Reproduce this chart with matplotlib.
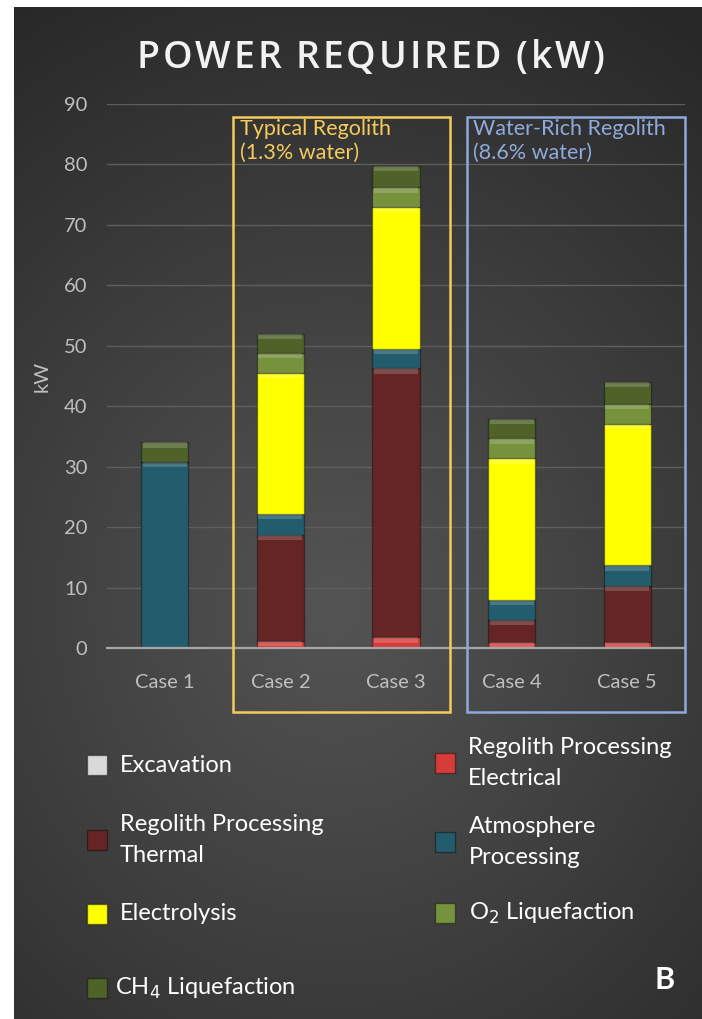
import numpy as np
import matplotlib.pyplot as plt
from matplotlib.patches import Rectangle

plt.rcParams['font.family'] = ['Lato', 'DejaVu Sans']

# datos (kW)
casos = ['Case 1', 'Case 2', 'Case 3', 'Case 4', 'Case 5']
excavacion = [0, 0, 0, 0, 0]
reg_electrico = [0, 1.2, 1.8, 1.0, 1.0]
reg_termico = [0, 17.5, 44.5, 3.7, 9.3]
atmosfera = [30.8, 3.5, 3.2, 3.3, 3.4]
electrolisis = [0, 23.3, 23.5, 23.4, 23.4]
o2_licuado = [0, 3.3, 3.2, 3.3, 3.3]
ch4_licuado = [3.2, 3.2, 3.6, 3.2, 3.6]

series = [('Excavation', excavacion, '#D9D9D9'),
          ('Regolith Processing\nElectrical', reg_electrico, '#D63C3A'),
          ('Regolith Processing\nThermal', reg_termico, '#652524'),
          ('Atmosphere\nProcessing', atmosfera, '#235C6C'),
          ('Electrolysis', electrolisis, '#FFFF00'),
          ('O$_2$ Liquefaction', o2_licuado, '#76923C'),
          ('CH$_4$ Liquefaction', ch4_licuado, '#4F6228')]

W, H = 702, 1019
fig = plt.figure(figsize=(W / 100, H / 100), dpi=100, facecolor='white')

# fondo oscuro con degradado radial
bg = fig.add_axes([14 / W, 0, 1 - 14 / W, 1 - 7 / H])
yy, xx = np.mgrid[0:1012, 0:688]
d = np.sqrt((xx - 320) ** 2 + ((yy - 600) * 0.9) ** 2) / 620
d = np.clip(d, 0, 1)
val = 0.33 - 0.17 * d
bg.imshow(np.dstack([val, val, val]), aspect='auto', extent=[0, 1, 0, 1])
bg.axis('off')

ax = fig.add_axes([107 / W, (H - 648) / H, 578 / W, 544 / H])
ax.patch.set_alpha(0)
x = np.arange(len(casos))
base = np.zeros(len(casos))
for nombre, vals, color in series:
    vals = np.array(vals, dtype=float)
    ax.bar(x, vals, 0.41, bottom=base, color=color, edgecolor=(0, 0, 0, 0.35), linewidth=1, zorder=3)
    # brillo en la parte de arriba de cada segmento
    h = np.minimum(vals, 0.9)
    ax.bar(x, h, 0.38, bottom=base + vals - h, color='white', alpha=0.18, linewidth=0, zorder=4)
    base = base + vals

ax.set_xlim(-0.5, 4.5)
ax.set_ylim(0, 90)
ax.set_yticks(range(0, 91, 10))
ax.set_xticks(x)
ax.set_xticklabels(casos)
ax.tick_params(colors='#BFBFBF', labelsize=14.5, length=0)
ax.tick_params(axis='y', pad=14)
ax.tick_params(axis='x', pad=19)
ax.grid(axis='y', color='#5E5E5E', linewidth=1, zorder=0)
for s in ['top', 'right', 'left']:
    ax.spines[s].set_visible(False)
ax.spines['bottom'].set_color('#A6A6A6')
ax.spines['bottom'].set_linewidth(1.6)
ax.spines['bottom'].set_zorder(5)
ax.set_ylabel('kW', color='#BFBFBF', fontsize=14.5, labelpad=10)

# cajas de los grupos
ax.add_patch(Rectangle((0.59, -10.6), 1.877, 98.45, fill=False, edgecolor='#F5CB5C', linewidth=1.8, clip_on=False, zorder=6))
ax.add_patch(Rectangle((2.614, -10.6), 1.886, 98.45, fill=False, edgecolor='#8FAADC', linewidth=1.8, clip_on=False, zorder=6))
ax.text(0.65, 87.6, 'Typical Regolith\n(1.3% water)', color='#F5CB5C', fontsize=15.5, va='top', ha='left', linespacing=1.3, zorder=6)
ax.text(2.67, 87.6, 'Water-Rich Regolith\n(8.6% water)', color='#8FAADC', fontsize=15.5, va='top', ha='left', linespacing=1.3, zorder=6)

# titulo con letras separadas
titulo = 'POWER REQUIRED (kW)'
r = fig.canvas.get_renderer()
letras = []
for c in titulo:
    t = fig.text(0, 1 - 58 / H, c, color='#F2F2F2', fontsize=27, fontweight='semibold',
                 family=['Open Sans', 'DejaVu Sans'], ha='left', va='center')
    letras.append(t)
anchos = []
for t, c in zip(letras, titulo):
    if c == ' ':
        anchos.append(9)
    else:
        anchos.append(t.get_window_extent(r).width)
extra = 2.8
total = sum(anchos) + extra * (len(titulo) - 1)
xpos = 371 - total / 2
for t, w in zip(letras, anchos):
    t.set_x(xpos / W)
    xpos += w + extra

# leyenda hecha a mano
pos = [(97, 765, 120), (445, 763, 468), (97, 840, 120), (445, 842, 469),
       (97, 914, 120), (445, 913, 469), (97, 988, 115)]
for (nombre, vals, color), (mx, my, tx) in zip(series, pos):
    fig.add_artist(Rectangle(((mx - 10) / W, 1 - (my + 10) / H), 20 / W, 20 / H, facecolor=color,
                             edgecolor=(0, 0, 0, 0.4), linewidth=1, transform=fig.transFigure))
    fig.text(tx / W, 1 - my / H, nombre, color='white', fontsize=17, ha='left', va='center', linespacing=1.55)

fig.text(665 / W, 1 - 980 / H, 'B', color='white', fontsize=22, fontweight='bold', ha='center', va='center')

fig.savefig('out.png', dpi=100, facecolor='white')
